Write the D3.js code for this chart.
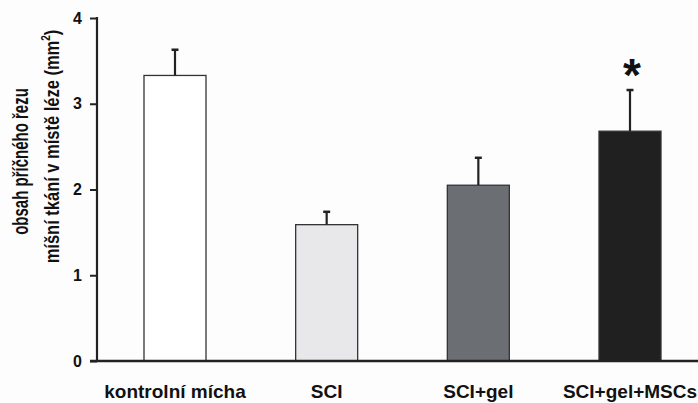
<!DOCTYPE html>
<html>
<head>
<meta charset="utf-8">
<script src="https://cdn.jsdelivr.net/npm/d3@7"></script>
<style>
  body { margin: 0; background: #fdfdfd; }
  text { font-family: "Liberation Sans", Arial, sans-serif; font-weight: bold; fill: #111; }
</style>
</head>
<body>
<svg width="698" height="403"></svg>
<script>
const categories = ["kontrolní mícha", "SCI", "SCI+gel", "SCI+gel+MSCs"];
const means = [3.33, 1.59, 2.05, 2.68];
const errors = [0.30, 0.15, 0.32, 0.48];
const significant = [false, false, false, true];
const yTicks = [0, 1, 2, 3, 4];

const fills = ["#ffffff", "#e8e7ea", "#6b6e73", "#202020"];

const svg = d3.select("svg");
svg.append("rect").attr("width", 698).attr("height", 403).attr("fill", "#fdfdfd");

const x = d3.scalePoint().domain(categories).range([175, 630]);
const y = d3.scaleLinear().domain([0, 4]).range([361, 18]);
const barW = 62;

// bars
svg.selectAll(".bar")
  .data(categories)
  .enter()
  .append("rect")
  .attr("class", "bar")
  .attr("x", (d) => x(d) - barW / 2)
  .attr("y", (d, i) => y(means[i]))
  .attr("width", barW)
  .attr("height", (d, i) => y(0) - y(means[i]))
  .attr("fill", (d, i) => fills[i])
  .attr("stroke", "#333")
  .attr("stroke-width", 1.3);

// error bars (upper only)
svg.selectAll(".err")
  .data(categories)
  .enter()
  .append("line")
  .attr("x1", (d) => x(d))
  .attr("x2", (d) => x(d))
  .attr("y1", (d, i) => y(means[i]))
  .attr("y2", (d, i) => y(means[i] + errors[i]))
  .attr("stroke", "#222")
  .attr("stroke-width", 2.2);

svg.selectAll(".cap")
  .data(categories)
  .enter()
  .append("line")
  .attr("x1", (d) => x(d) - 3.5)
  .attr("x2", (d) => x(d) + 3.5)
  .attr("y1", (d, i) => y(means[i] + errors[i]))
  .attr("y2", (d, i) => y(means[i] + errors[i]))
  .attr("stroke", "#222")
  .attr("stroke-width", 2.5);

// significance marks
svg.selectAll(".star")
  .data(categories.filter((d, i) => significant[i]))
  .enter()
  .append("text")
  .attr("x", (d) => x(d) + 2)
  .attr("y", (d) => y(means[categories.indexOf(d)] + errors[categories.indexOf(d)]) + 1)
  .attr("text-anchor", "middle")
  .attr("font-size", 46)
  .text("*");

// y axis
const yAxis = svg.append("g")
  .attr("transform", "translate(97,0)")
  .call(d3.axisLeft(y).tickValues(yTicks).tickFormat(d3.format("d")).tickSize(7).tickPadding(8));
yAxis.select(".domain").remove();
yAxis.selectAll(".tick line").attr("stroke", "#222").attr("stroke-width", 2);
yAxis.selectAll(".tick text").attr("font-size", 16).style("font-family", "'Liberation Sans', Arial, sans-serif").style("font-weight", "bold").attr("fill", "#111");

svg.append("line").attr("x1", 97).attr("x2", 97).attr("y1", 17).attr("y2", 362)
  .attr("stroke", "#222").attr("stroke-width", 2.2);
svg.append("line").attr("x1", 90).attr("x2", 698).attr("y1", y(0)).attr("y2", y(0))
  .attr("stroke", "#222").attr("stroke-width", 2.4);

// category labels
svg.selectAll(".cat")
  .data(categories)
  .enter()
  .append("text")
  .attr("x", (d) => x(d))
  .attr("y", 398)
  .attr("text-anchor", "middle")
  .attr("font-size", 19)
  .text((d) => d);

// y axis title (glyphs stretched across, as in the original)
svg.append("text")
  .attr("transform", "translate(27.5,161.5) rotate(-90) scale(1,1.45)")
  .attr("text-anchor", "middle")
  .attr("font-size", 15)
  .text("obsah příčného řezu");

const t2 = svg.append("text")
  .attr("transform", "translate(58.5,146.5) rotate(-90) scale(1,1.25)")
  .attr("text-anchor", "middle")
  .attr("font-size", 16.5);
t2.append("tspan").text("míšní tkání v místě léze (mm");
t2.append("tspan").attr("font-size", 10).attr("dy", -7).text("2");
t2.append("tspan").attr("dy", 7).text(")");
</script>
</body>
</html>
